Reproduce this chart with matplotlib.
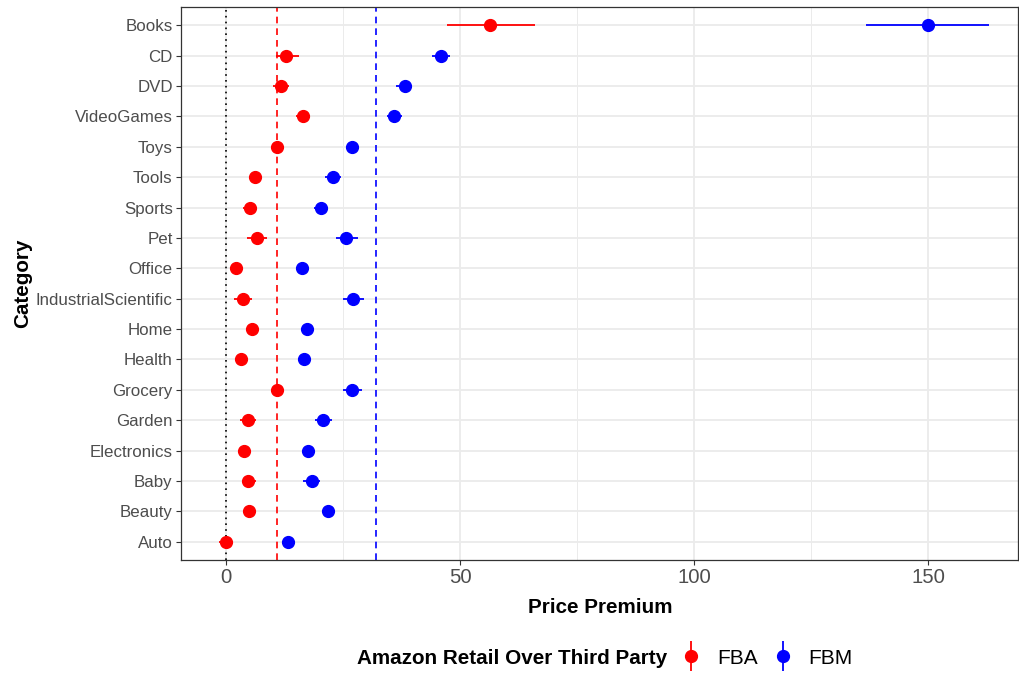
import matplotlib.pyplot as plt
from matplotlib.lines import Line2D
from matplotlib.legend_handler import HandlerTuple

plt.rcParams['font.family'] = ['Liberation Sans', 'DejaVu Sans']

categories = ['Auto', 'Beauty', 'Baby', 'Electronics', 'Garden', 'Grocery', 'Health',
              'Home', 'IndustrialScientific', 'Office', 'Pet', 'Sports', 'Tools', 'Toys',
              'VideoGames', 'DVD', 'CD', 'Books']

fba = [-0.1, 4.9, 4.8, 3.8, 4.6, 10.9, 3.2, 5.5, 3.6, 2.2, 6.7, 5.05, 6.3, 10.9, 16.4, 11.7, 12.9, 56.5]
fba_lo = [-1.4, 4.0, 3.4, 3.0, 3.0, 9.6, 2.4, 4.6, 1.7, 1.4, 4.5, 3.7, 4.9, 10.0, 14.9, 10.1, 10.6, 47.2]
fba_hi = [1.4, 5.8, 6.5, 4.6, 6.4, 12.3, 4.0, 6.4, 5.6, 3.0, 8.8, 6.5, 7.6, 11.8, 17.8, 13.4, 15.5, 66.1]

fbm = [13.3, 21.7, 18.3, 17.5, 20.8, 27.0, 16.6, 17.4, 27.2, 16.2, 25.7, 20.3, 22.9, 27.0, 35.9, 38.2, 46.0, 150.0]
fbm_lo = [12.4, 20.8, 16.5, 16.6, 19.1, 25.0, 15.7, 16.5, 25.0, 15.3, 23.5, 18.7, 21.2, 26.1, 34.3, 36.4, 44.0, 136.8]
fbm_hi = [14.2, 22.6, 20.1, 18.4, 22.6, 29.1, 17.5, 18.3, 29.5, 17.1, 28.1, 21.9, 24.6, 27.9, 37.6, 39.8, 47.9, 163.0]

mean_fba = 10.9
mean_fbm = 32.0

fig = plt.figure(figsize=(10.2, 6.73), dpi=100)
ax = fig.add_axes([0.1775, 0.168, 0.821, 0.8216])

y = list(range(len(categories)))

ax.axvline(0, color='black', linestyle=(0, (1, 2.5)), linewidth=1.2, zorder=2)
ax.axvline(mean_fba, color='red', linestyle=(0, (4, 3)), linewidth=1.2, zorder=2)
ax.axvline(mean_fbm, color='blue', linestyle=(0, (4, 3)), linewidth=1.2, zorder=2)

ax.hlines(y, fba_lo, fba_hi, color='red', linewidth=1.3, zorder=3)
ax.hlines(y, fbm_lo, fbm_hi, color='blue', linewidth=1.3, zorder=3)
ax.plot(fba, y, 'o', color='red', markersize=8.5, zorder=4)
ax.plot(fbm, y, 'o', color='blue', markersize=8.5, zorder=4)

ax.set_xlim(-9.6, 169.3)
ax.set_ylim(-0.6, len(categories) - 0.4)
ax.set_yticks(y)
ax.set_yticklabels(categories)
ax.set_xticks([0, 50, 100, 150])
ax.set_xticks([25, 75, 125], minor=True)
ax.tick_params(axis='y', labelsize=12.2, colors='#333333', labelcolor='#4D4D4D', length=3.5, width=0.8, pad=2.5)
ax.tick_params(axis='x', which='major', labelsize=14.7, colors='#333333', labelcolor='#4D4D4D', length=3.5, width=0.8, pad=2.5)
ax.tick_params(axis='x', which='minor', length=0)

ax.grid(True, which='major', color='#EBEBEB', linewidth=1.3, zorder=0)
ax.grid(True, which='minor', axis='x', color='#EBEBEB', linewidth=0.7, zorder=0)
ax.set_axisbelow(True)
for s in ax.spines.values():
    s.set_color('#333333')
    s.set_linewidth(0.9)

ax.set_xlabel('Price Premium', fontsize=14.9, fontweight='bold', labelpad=8)
ax.set_ylabel('Category', fontsize=14.9, fontweight='bold', labelpad=3)

fig.text(0.35, 0.022, 'Amazon Retail Over Third Party', fontsize=14.9, fontweight='bold',
         va='center', ha='left')
h_fba = (Line2D([], [], color='red', marker='|', markersize=22, markeredgewidth=1.3, linestyle='none'),
         Line2D([], [], color='red', marker='o', markersize=8.5, linestyle='none'))
h_fbm = (Line2D([], [], color='blue', marker='|', markersize=22, markeredgewidth=1.3, linestyle='none'),
         Line2D([], [], color='blue', marker='o', markersize=8.5, linestyle='none'))
fig.legend([h_fba, h_fbm], ['FBA', 'FBM'], handler_map={tuple: HandlerTuple(ndivide=1)},
           loc='center left', bbox_to_anchor=(0.657, 0.022), ncol=2, frameon=False,
           fontsize=15, handlelength=1.0, handletextpad=0.75, columnspacing=0.7, borderpad=0)

fig.savefig('out.png', dpi=100)
